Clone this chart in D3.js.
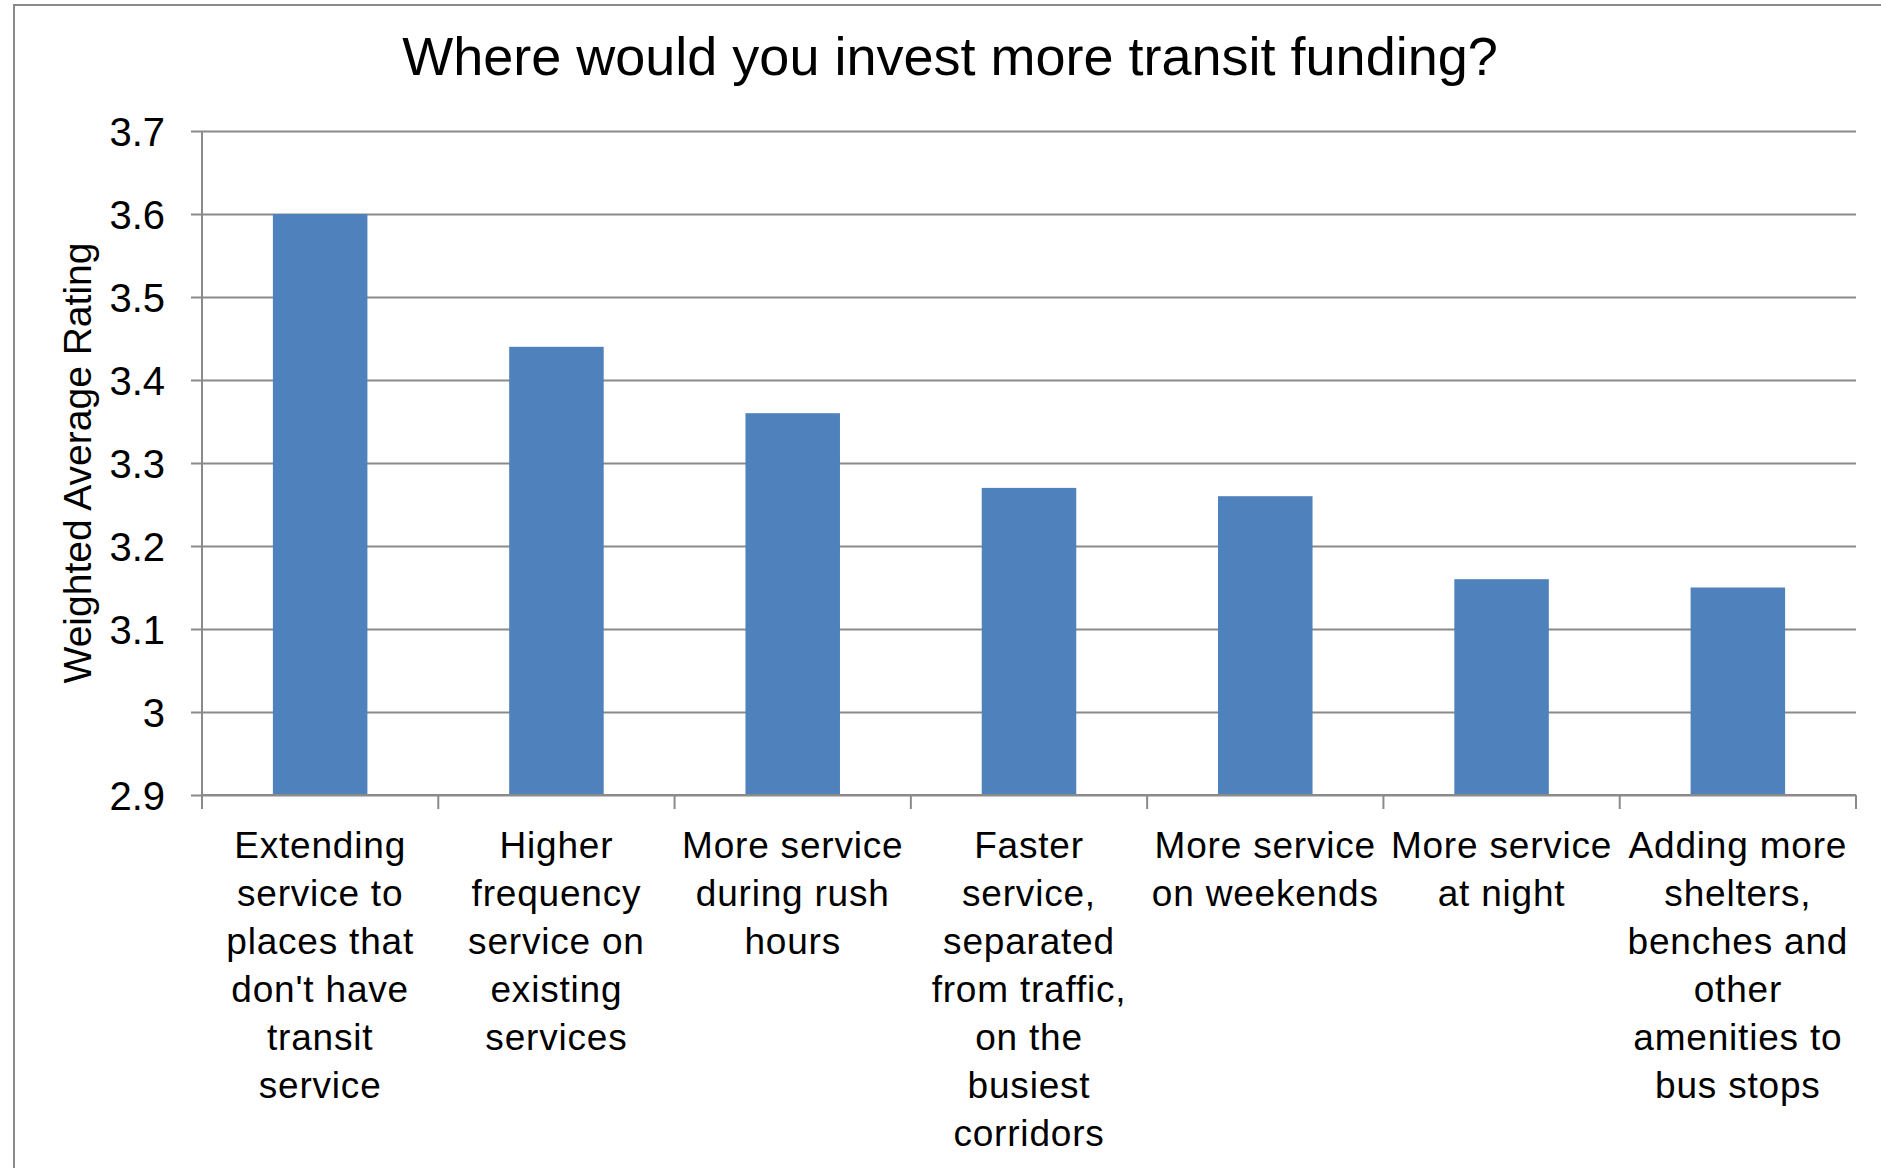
<!DOCTYPE html>
<html><head><meta charset="utf-8">
<script src="https://cdn.jsdelivr.net/npm/d3@7"></script>
<style>html,body{margin:0;padding:0;background:#fff;}</style>
</head><body>
<svg id="chart" width="1881" height="1168"></svg>
<script>
const title = "Where would you invest more transit funding?";
const yAxisTitle = "Weighted Average Rating";
const categories = [
  ["Extending", "service to", "places that", "don't have", "transit", "service"],
  ["Higher", "frequency", "service on", "existing", "services"],
  ["More service", "during rush", "hours"],
  ["Faster", "service,", "separated", "from traffic,", "on the", "busiest", "corridors"],
  ["More service", "on weekends"],
  ["More service", "at night"],
  ["Adding more", "shelters,", "benches and", "other", "amenities to", "bus stops"]
];
const values = [3.60, 3.44, 3.36, 3.27, 3.26, 3.16, 3.15];
const yTicks = [2.9, 3.0, 3.1, 3.2, 3.3, 3.4, 3.5, 3.6, 3.7];
const yTickLabels = ["2.9", "3", "3.1", "3.2", "3.3", "3.4", "3.5", "3.6", "3.7"];

const svg = d3.select("#chart");
const L = 202, R = 1856, T = 131, B = 795;
const gridColor = "#8a8a8a";

// outer chart border (right & bottom run off the page)
svg.append("rect").attr("x", 14).attr("y", 5).attr("width", 2000).attr("height", 2000)
  .attr("fill", "none").attr("stroke", gridColor).attr("stroke-width", 2);

const idx = categories.map((d, i) => i);
const xCat = d3.scaleBand().domain(idx).range([L, R]).padding(0);
const xBar = d3.scaleBand().domain(idx).range([L, R]).paddingInner(0.6).paddingOuter(0.3);
const y = d3.scaleLinear().domain([2.9, 3.7]).range([B, T]);

// gridlines + y axis
const yAxis = d3.axisLeft(y).tickValues(yTicks).tickSize(-(R - L)).tickSizeOuter(0)
  .tickFormat((d, i) => yTickLabels[i]);
const gy = svg.append("g").attr("transform", `translate(${L},0)`).call(yAxis);
gy.select(".domain").remove();
gy.selectAll(".tick line").attr("stroke", gridColor).attr("stroke-width", 2).attr("x1", -11);
gy.selectAll(".tick text").attr("x", -37).attr("dy", "0.36em")
  .attr("font-family", "Liberation Sans, Arial, sans-serif").attr("font-size", 40).attr("fill", "#000");

// bars
svg.append("g").selectAll("rect").data(values).join("rect")
  .attr("x", (d, i) => xBar(i))
  .attr("width", xBar.bandwidth())
  .attr("y", d => y(d))
  .attr("height", d => y(2.9) - y(d))
  .attr("fill", "#4F81BD");

// y axis line
svg.append("line").attr("x1", L).attr("x2", L).attr("y1", T).attr("y2", B + 14)
  .attr("stroke", gridColor).attr("stroke-width", 2);
// x axis line
svg.append("line").attr("x1", L).attr("x2", R).attr("y1", B).attr("y2", B)
  .attr("stroke", gridColor).attr("stroke-width", 2);
// category ticks at boundaries
const bounds = idx.map(i => xCat(i)).concat([R]);
svg.append("g").selectAll("line").data(bounds).join("line")
  .attr("x1", d => d).attr("x2", d => d).attr("y1", B).attr("y2", B + 14)
  .attr("stroke", gridColor).attr("stroke-width", 2);

// category labels
const lab = svg.append("g").attr("font-family", "Liberation Sans, Arial, sans-serif")
  .attr("font-size", 37).attr("letter-spacing", "0.8px").attr("fill", "#000").attr("text-anchor", "middle");
categories.forEach((lines, i) => {
  const cx = xCat(i) + xCat.bandwidth() / 2;
  const t = lab.append("text").attr("x", cx).attr("y", 858);
  lines.forEach((ln, j) => {
    t.append("tspan").attr("x", cx).attr("y", 858 + j * 48).text(ln);
  });
});

// title
svg.append("text").attr("x", 950).attr("y", 75).attr("text-anchor", "middle")
  .attr("font-family", "Liberation Sans, Arial, sans-serif").attr("font-size", 54).attr("fill", "#000")
  .text(title);

// y axis title
svg.append("text").attr("transform", `translate(91,${(T + B) / 2}) rotate(-90)`)
  .attr("text-anchor", "middle")
  .attr("font-family", "Liberation Sans, Arial, sans-serif").attr("font-size", 39).attr("fill", "#000")
  .text(yAxisTitle);
</script>
</body></html>
